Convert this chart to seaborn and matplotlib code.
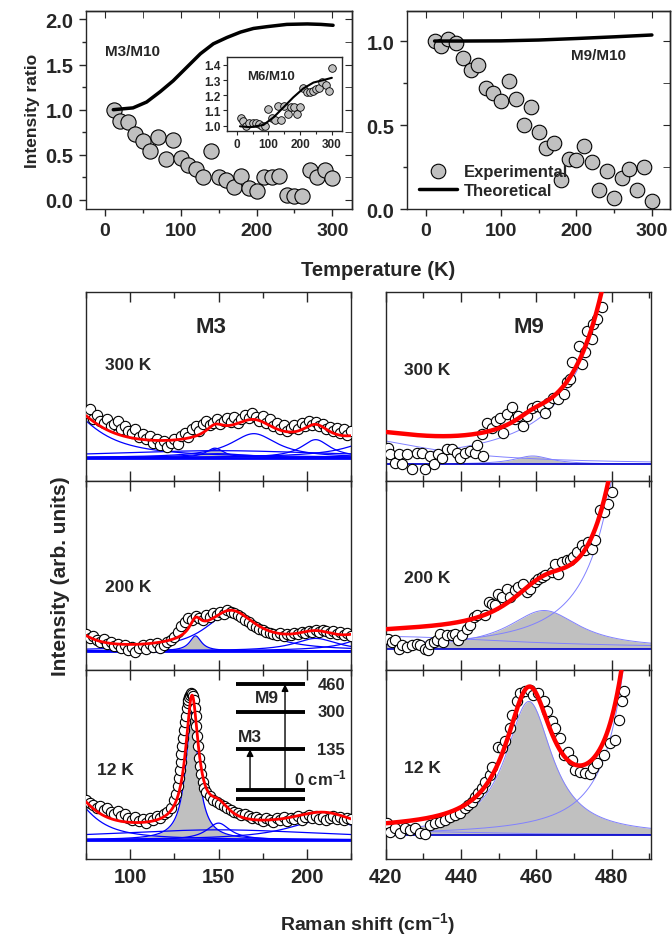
import numpy as np
import pandas as pd
import matplotlib
matplotlib.use("Agg")
import matplotlib.pyplot as plt
from matplotlib.ticker import MultipleLocator, NullLocator
import seaborn as sns

# ---------------- top panels: intensity ratios ----------------
temps = [12, 20, 30, 40, 50, 60, 70, 80, 90, 100, 110, 120, 130, 140, 150,
         160, 170, 180, 190, 200, 210, 220, 230, 240, 250, 260, 270, 280, 290, 300]
m3_ratio = [1.00, 0.88, 0.86, 0.73, 0.65, 0.54, 0.70, 0.45, 0.66, 0.46, 0.39, 0.34,
            0.25, 0.54, 0.25, 0.22, 0.14, 0.27, 0.13, 0.10, 0.25, 0.26, 0.27, 0.06,
            0.04, 0.04, 0.33, 0.25, 0.33, 0.24]
m9_ratio = [1.00, 0.97, 1.01, 0.99, 0.90, 0.83, 0.86, 0.72, 0.69, 0.645, 0.76, 0.655,
            0.50, 0.605, 0.46, 0.365, 0.39, 0.175, 0.30, 0.29, 0.377, 0.28, 0.115,
            0.224, 0.063, 0.187, 0.238, 0.115, 0.25, 0.048]
m6_ratio = [1.05, 1.03, 1.00, 1.02, 1.02, 1.02, 1.01, 1.00, 1.00, 1.11, 1.05, 1.04,
            1.13, 1.04, 1.13, 1.08, 1.12, 1.12, 1.08, 1.12, 1.25, 1.22, 1.22, 1.23,
            1.24, 1.25, 1.29, 1.27, 1.23, 1.38]

theo_m3_T = [11, 37, 55, 73, 90, 108, 126, 143, 161, 179, 196, 214, 240, 267, 285, 301]
theo_m3 = [1.00, 1.02, 1.085, 1.20, 1.32, 1.47, 1.62, 1.73, 1.80, 1.86, 1.90, 1.92,
           1.945, 1.95, 1.945, 1.935]
theo_m9_T = [12, 50, 100, 150, 200, 250, 300]
theo_m9 = [1.00, 1.00, 1.001, 1.006, 1.015, 1.025, 1.036]
theo_m6_T = [10, 42, 84, 116, 147, 178, 210, 242, 273, 300]
theo_m6 = [0.996, 0.99, 1.005, 1.055, 1.12, 1.186, 1.245, 1.284, 1.30, 1.315]

# ---------------- bottom panels: Raman spectra (arb. units) ----------------
m3_x = list(range(75, 226, 2))
m3_300 = [68, 72, 62, 66, 60, 58, 62, 55, 57, 60, 52, 55, 50, 48, 52, 44, 47, 42, 45, 38,
          42, 36, 40, 34, 38, 42, 37, 45, 48, 44, 52, 55, 50, 57, 60, 56, 58, 62, 57, 60,
          63, 59, 64, 58, 62, 66, 63, 68, 64, 60, 65, 58, 62, 55, 58, 52, 56, 50, 53, 56,
          52, 58, 55, 60, 56, 59, 55, 57, 52, 54, 50, 53, 48, 52, 46, 50]
m3_200 = [36, 32, 34, 30, 28, 31, 26, 28, 24, 26, 22, 25, 20, 23, 18, 22, 25, 21, 26, 23,
          27, 22, 25, 28, 30, 33, 38, 44, 48, 52, 50, 54, 52, 50, 55, 53, 57, 55, 58, 56,
          60, 58, 57, 55, 53, 50, 48, 45, 43, 41, 40, 38, 37, 36, 35, 37, 34, 36, 35, 37,
          36, 38, 37, 39, 38, 40, 38, 40, 39, 37, 39, 36, 38, 35, 37, 34]
m3_12_x = [75, 77, 79, 81, 83, 85, 87, 89, 91, 93, 95, 97, 99, 101, 103, 105, 107, 109,
           111, 113, 115, 117, 119, 121, 123, 125, 126, 127, 127.5, 128, 128.5, 129,
           129.5, 130, 130.5, 131, 131.5, 132, 132.5, 133, 133.5, 134, 134.5, 135, 135.5,
           136, 136.5, 137, 137.5, 138, 138.5, 139, 139.5, 140, 141, 142, 143, 145, 147,
           149, 151, 153, 155, 157, 159, 161, 163, 165, 167, 169, 171, 173, 175, 177, 179,
           181, 183, 185, 187, 189, 191, 193, 195, 197, 199, 201, 203, 205, 207, 209, 211,
           213, 215, 217, 219, 221, 223, 225]
m3_12 = [58, 55, 53, 50, 52, 48, 50, 46, 44, 47, 42, 44, 40, 38, 41, 37, 39, 35, 40, 38,
         42, 40, 44, 46, 50, 58, 64, 72, 80, 88, 96, 104, 112, 120, 128, 136, 142, 150,
         155, 158, 161, 163, 165, 164, 162, 158, 150, 142, 132, 122, 112, 100, 92, 84, 76,
         70, 66, 62, 58, 56, 54, 52, 50, 48, 46, 45, 43, 44, 42, 40, 41, 39, 37, 40, 38,
         36, 40, 38, 41, 37, 40, 39, 42, 38, 41, 43, 40, 42, 39, 41, 38, 40, 42, 39, 41,
         38, 40, 39]

m9_300_x = [420.7, 421.2, 422.5, 423.4, 424.2, 425.6, 426.9, 428.2, 429.6, 430.4, 431.8,
            432.7, 434.0, 434.9, 436.2, 437.5, 438.8, 439.7, 441.1, 442.4, 443.7, 444.3,
            445.9, 445.5, 446.8, 448.1, 449.3, 450.4, 451.2, 452.1, 453.5, 454.3, 455.2,
            456.5, 457.4, 458.8, 460.1, 461.4, 462.3, 463.2, 464.5, 465.8, 467.2, 468.1,
            468.9, 469.4, 471.2, 472.0, 472.9, 473.4, 474.7, 475.1, 476.0, 477.3]
m9_300 = [33.4, 26.7, 18.4, 26.7, 16.7, 26.7, 11.7, 28.4, 27.7, 11.7, 25.0, 16.7, 26.7,
          23.4, 31.7, 32.4, 28.4, 23.4, 28.4, 30.0, 28.4, 35.7, 25.0, 46.7, 58.4, 53.4,
          60.0, 63.4, 48.4, 66.7, 74.4, 61.7, 65.0, 55.0, 65.0, 73.4, 75.0, 73.4, 68.4,
          78.4, 83.4, 81.7, 86.7, 98.4, 101.7, 118.4, 135.0, 116.7, 128.4, 150.0, 141.7,
          156.7, 161.7, 173.4]
m9_200_x = [420.7, 421.6, 422.5, 423.4, 424.2, 425.6, 426.9, 428.2, 429.1, 430.4, 431.1,
            431.8, 432.7, 433.5, 434.4, 435.3, 436.2, 437.5, 438.4, 439.3, 440.2, 441.5,
            442.4, 443.3, 444.2, 446.4, 447.3, 448.1, 449.0, 449.9, 450.8, 452.1, 453.0,
            454.3, 455.2, 456.5, 457.4, 458.3, 459.6, 460.5, 461.4, 462.3, 464.1, 465.0,
            465.8, 466.7, 468.1, 468.9, 469.8, 470.7, 472.0, 472.9, 473.8, 474.7, 475.6,
            476.9, 477.8, 479.1, 480.0]
m9_200 = [31.0, 27.7, 29.3, 21.0, 24.3, 22.7, 24.3, 26.0, 24.3, 21.0, 19.3, 26.0, 27.7,
          29.3, 36.0, 27.7, 34.3, 34.3, 36.0, 29.3, 34.3, 41.0, 44.3, 52.7, 54.3, 54.3,
          67.7, 66.0, 64.3, 76.0, 72.7, 81.0, 72.7, 79.3, 82.7, 86.0, 77.7, 81.0, 87.7,
          91.0, 92.7, 94.3, 97.7, 106.0, 96.0, 107.7, 109.3, 109.3, 112.7, 117.7, 124.3,
          119.3, 127.7, 121.0, 129.3, 159.3, 157.7, 166.0, 177.7]
m9_12_x = [420.3, 421.2, 422.5, 423.8, 425.1, 426.5, 427.8, 429.1, 430.4, 431.8, 433.1,
           434.4, 435.8, 437.1, 438.4, 439.7, 441.1, 441.9, 442.8, 443.7, 444.6, 445.5,
           446.4, 447.7, 448.1, 449.9, 450.8, 451.7, 453.0, 453.5, 454.8, 455.7, 457.0,
           458.3, 459.2, 460.5, 461.9, 462.7, 464.1, 465.0, 466.3, 467.2, 468.5, 469.4,
           470.3, 471.6, 472.9, 474.2, 475.1, 476.0, 477.8, 479.6, 480.9, 481.8, 482.7,
           483.3]
m9_12 = [35.0, 26.7, 30.0, 25.0, 30.0, 28.3, 30.7, 25.0, 24.0, 33.3, 35.0, 36.0, 38.3,
         41.7, 43.3, 45.0, 50.0, 53.3, 56.7, 61.7, 65.0, 70.0, 76.7, 83.3, 91.7, 111.7,
         110.0, 116.7, 130.0, 143.3, 156.7, 165.0, 166.7, 168.3, 163.3, 165.0, 156.7,
         146.7, 136.7, 130.0, 120.0, 103.3, 106.7, 98.3, 88.3, 86.7, 85.0, 84.0, 90.0,
         95.0, 103.3, 115.0, 118.3, 138.3, 156.7, 166.7]

# Fitted Lorentzian components: centre, half width, height
m3_300_base = 23.3
m3_300_c = [60, 148, 150, 170, 205, 245, 150]
m3_300_g = [22, 6, 20, 16, 10, 20, 80]
m3_300_a = [54, 9.5, 4, 24, 18, 23, 7]
m3_300_fill = 1
m3_200_base = 18.6
m3_200_c = [65, 137, 157, 205, 240]
m3_200_g = [12, 4, 18, 15, 15]
m3_200_a = [22.7, 15, 38, 12.5, 19]
m3_200_fill = 1
m3_12_base = 18.6
m3_12_c = [65, 135, 150, 210, 150]
m3_12_g = [15, 4.3, 8, 25, 80]
m3_12_a = [45, 127, 16.7, 20, 10]
m3_12_fill = 1
m9_300_base = 16.7
m9_300_c = [410, 459, 490]
m9_300_g = [25, 6, 10]
m9_300_a = [27, 8.3, 440]
m9_300_fill = 1
m9_200_base = 21.0
m9_200_c = [420, 462, 488]
m9_200_g = [40, 11.5, 8]
m9_200_a = [12, 38, 340]
m9_200_fill = 1
m9_12_base = 23.3
m9_12_c = [420, 458, 490]
m9_12_g = [30, 7.5, 6]
m9_12_a = [4, 133.4, 388]
m9_12_fill = 1

level_labels = ["460", "300", "135", "0 cm$^{-1}$"]

# ---------------- styling ----------------
sns.set_style("ticks")
plt.rcParams["font.family"] = ["Liberation Sans", "DejaVu Sans"]
plt.rcParams["font.weight"] = "bold"
plt.rcParams["axes.labelweight"] = "bold"
plt.rcParams["mathtext.fontset"] = "custom"
plt.rcParams["mathtext.rm"] = "Liberation Sans:bold"
plt.rcParams["mathtext.it"] = "Liberation Sans:bold"
plt.rcParams["mathtext.bf"] = "Liberation Sans:bold"
plt.rcParams["axes.linewidth"] = 1.0

W, H = 672, 937
fig = plt.figure(figsize=(W / 100, H / 100), dpi=100)


def px_axes(x0, y0, x1, y1):
    return fig.add_axes([x0 / W, 1 - y1 / H, (x1 - x0) / W, (y1 - y0) / H])


def lor(x, c, g, a):
    return a * g ** 2 / ((x - c) ** 2 + g ** 2)


def style_top(ax):
    ax.tick_params(which="both", direction="out", top=False, right=False, width=1.0,
                   pad=4)
    ax.tick_params(axis="x", labelsize=14)
    ax.tick_params(axis="y", labelsize=14.5)
    ax.tick_params(which="major", length=5)
    ax.tick_params(which="minor", length=3)
    ax2 = ax.secondary_xaxis("top")
    ax2.tick_params(which="both", direction="in", labeltop=False, length=5)
    ax2.xaxis.set_major_locator(ax.xaxis.get_major_locator())
    ax2.xaxis.set_minor_locator(ax.xaxis.get_minor_locator())
    ax3 = ax.secondary_yaxis("right")
    ax3.tick_params(which="both", direction="in", labelright=False, length=5)
    ax3.yaxis.set_major_locator(ax.yaxis.get_major_locator())
    ax3.yaxis.set_minor_locator(ax.yaxis.get_minor_locator())
    for lab in ax.get_xticklabels() + ax.get_yticklabels():
        lab.set_fontweight("bold")


# ---- top-left ----
axA = px_axes(86, 12.3, 352, 210)
sns.scatterplot(x=temps, y=m3_ratio, ax=axA, s=120, color="#c0c0c0", edgecolor="black",
                linewidth=0.8, zorder=3)
sns.lineplot(x=theo_m3_T, y=theo_m3, ax=axA, color="black", lw=2.5, sort=False,
             estimator=None, zorder=4)
axA.set_xlim(-25, 326)
axA.set_ylim(-0.1, 2.09)
axA.xaxis.set_major_locator(MultipleLocator(100))
axA.xaxis.set_minor_locator(MultipleLocator(50))
axA.yaxis.set_major_locator(MultipleLocator(0.5))
axA.yaxis.set_minor_locator(MultipleLocator(0.25))
axA.set_ylabel("Intensity ratio", fontsize=12.5, labelpad=4)
axA.text(0.07, 0.8, "M3/M10", transform=axA.transAxes, fontsize=11, fontweight="bold",
         va="center")
style_top(axA)

# ---- inset ----
axI = px_axes(227.3, 58.3, 342, 131.7)
sns.scatterplot(x=temps, y=m6_ratio, ax=axI, s=30, color="#c0c0c0", edgecolor="black",
                linewidth=0.6, zorder=3)
sns.lineplot(x=theo_m6_T, y=theo_m6, ax=axI, color="black", lw=1.5, sort=False,
             estimator=None, zorder=4)
axI.set_xlim(-30, 332)
axI.set_ylim(0.967, 1.45)
axI.xaxis.set_major_locator(MultipleLocator(100))
axI.xaxis.set_minor_locator(MultipleLocator(50))
axI.yaxis.set_major_locator(MultipleLocator(0.1))
axI.tick_params(which="both", direction="out", labelsize=8.5, length=3, width=0.8, pad=2)
axI.tick_params(which="minor", length=2)
for lab in axI.get_xticklabels() + axI.get_yticklabels():
    lab.set_fontweight("bold")
axI.set_xlabel("")
axI.set_ylabel("")
axI.text(0.17, 0.74, "M6/M10", transform=axI.transAxes, fontsize=9.5, fontweight="bold",
         va="center")

# ---- top-right ----
axB = px_axes(406.7, 12.3, 670, 210)
sns.scatterplot(x=temps, y=m9_ratio, ax=axB, s=110, color="#c0c0c0", edgecolor="black",
                linewidth=0.8, zorder=3, label="Experimental")
sns.lineplot(x=theo_m9_T, y=theo_m9, ax=axB, color="black", lw=2.5, sort=False,
             estimator=None, zorder=4, label="Theoretical")
axB.set_xlim(-25, 324)
axB.set_ylim(0, 1.177)
axB.xaxis.set_major_locator(MultipleLocator(100))
axB.xaxis.set_minor_locator(MultipleLocator(50))
axB.yaxis.set_major_locator(MultipleLocator(0.5))
axB.yaxis.set_minor_locator(MultipleLocator(0.25))
axB.set_ylabel("")
axB.text(0.624, 0.78, "M9/M10", transform=axB.transAxes, fontsize=11, fontweight="bold",
         va="center")
style_top(axB)
hs, ls = axB.get_legend_handles_labels()
axB.legend(hs, ls, loc="lower left", bbox_to_anchor=(-0.01, -0.02), frameon=False,
           handlelength=2.3, handletextpad=0.4, labelspacing=0.25,
           prop={"weight": "bold", "size": 12})

fig.text(378 / W, 1 - 270 / H, "Temperature (K)", ha="center", va="center", fontsize=14.5,
         fontweight="bold")

# ---------------- bottom spectra ----------------
rows = [(293.3, 482.0), (482.0, 670.5), (670.5, 859.5)]
left_panels = [
    (m3_x, m3_300, m3_300_base, m3_300_c, m3_300_g, m3_300_a, m3_300_fill, "300 K"),
    (m3_x, m3_200, m3_200_base, m3_200_c, m3_200_g, m3_200_a, m3_200_fill, "200 K"),
    (m3_12_x, m3_12, m3_12_base, m3_12_c, m3_12_g, m3_12_a, m3_12_fill, "12 K"),
]
right_panels = [
    (m9_300_x, m9_300, m9_300_base, m9_300_c, m9_300_g, m9_300_a, m9_300_fill, "300 K"),
    (m9_200_x, m9_200, m9_200_base, m9_200_c, m9_200_g, m9_200_a, m9_200_fill, "200 K"),
    (m9_12_x, m9_12, m9_12_base, m9_12_c, m9_12_g, m9_12_a, m9_12_fill, "12 K"),
]


def spectrum_panel(ax, panel, xlim, side):
    xs, ys, base, cs, gs, as_, fill_i, lab = panel
    grid = np.linspace(xlim[0], xlim[1], 600)
    comps = [lor(grid, c, g, a) for c, g, a in zip(cs, gs, as_)]
    fit = base + np.sum(comps, axis=0)
    if side == "L":
        ccol, clw, bcol, blw, rlw, ecol = "#0000ff", 0.9, "#0000ff", 2.0, 2.0, "#0000ff"
    else:
        ccol, clw, bcol, blw, rlw, ecol = "#8080ff", 0.7, "#0000cc", 1.2, 3.2, "#8080ff"
    ax.fill_between(grid, base, base + comps[fill_i], color="#c0c0c0", lw=0, zorder=1)
    for i, comp in enumerate(comps):
        sns.lineplot(x=grid, y=base + comp, ax=ax, color=ecol if i == fill_i else ccol,
                     lw=clw, sort=False, estimator=None, zorder=2)
    ax.axhline(base, color=bcol, lw=blw, zorder=2)
    sns.scatterplot(x=xs, y=ys, ax=ax, s=55, color="white", edgecolor="black",
                    linewidth=0.8, zorder=3)
    sns.lineplot(x=grid, y=fit, ax=ax, color="#ff0000", lw=rlw, sort=False,
                 estimator=None, zorder=4)
    ax.set_xlim(*xlim)
    ax.set_ylim(0, 188.5)
    ax.yaxis.set_major_locator(NullLocator())
    ax.set_xlabel("")
    ax.set_ylabel("")
    ax.tick_params(which="both", direction="in", top=True, bottom=True, width=1.0,
                   labelsize=14.5, pad=6)
    ax.tick_params(which="major", length=7)
    ax.tick_params(which="minor", length=4)
    return lab


for r, (y0, y1) in enumerate(rows):
    axL = px_axes(86, y0, 351, y1)
    lab = spectrum_panel(axL, left_panels[r], (75, 225), "L")
    axL.xaxis.set_major_locator(MultipleLocator(50))
    axL.xaxis.set_minor_locator(MultipleLocator(25))
    axL.set_xticks([100, 150, 200])
    axL.text(0.07 if r < 2 else 0.04, [0.62, 0.44, 0.47][r], lab, transform=axL.transAxes,
             fontsize=12.5, fontweight="bold", va="center")
    if r == 0:
        axL.text(0.47, 0.82, "M3", transform=axL.transAxes, fontsize=16,
                 fontweight="bold", ha="center", va="center")
    if r < 2:
        axL.tick_params(labelbottom=False)
    else:
        for lab_t in axL.get_xticklabels():
            lab_t.set_fontweight("bold")
        # level scheme
        lvl_y = [0.922, 0.776, 0.578, 0.363, 0.314]
        for yy in lvl_y:
            axL.plot([0.566, 0.826], [yy, yy], transform=axL.transAxes, color="black",
                     lw=2.8, solid_capstyle="butt", zorder=5)
        for yy, t in zip(lvl_y[:3], level_labels[:3]):
            axL.text(0.925, yy, t, transform=axL.transAxes, fontsize=12,
                     fontweight="bold", ha="center", va="center")
        axL.text(0.885, 0.43, level_labels[3], transform=axL.transAxes, fontsize=12,
                 fontweight="bold", ha="center", va="center")
        axL.annotate("", xy=(0.619, 0.578), xytext=(0.619, 0.363),
                     xycoords="axes fraction",
                     arrowprops=dict(arrowstyle="-|>", color="black", lw=1.0,
                                     mutation_scale=10, shrinkA=0, shrinkB=0))
        axL.annotate("", xy=(0.751, 0.922), xytext=(0.751, 0.363),
                     xycoords="axes fraction",
                     arrowprops=dict(arrowstyle="-|>", color="black", lw=1.0,
                                     mutation_scale=10, shrinkA=0, shrinkB=0))
        axL.text(0.683, 0.854, "M9", transform=axL.transAxes, fontsize=12.5,
                 fontweight="bold", ha="center", va="center")
        axL.text(0.619, 0.647, "M3", transform=axL.transAxes, fontsize=12.5,
                 fontweight="bold", ha="center", va="center")

    axR = px_axes(385.7, y0, 651, y1)
    lab = spectrum_panel(axR, right_panels[r], (420, 490.4), "R")
    axR.xaxis.set_major_locator(MultipleLocator(20))
    axR.xaxis.set_minor_locator(MultipleLocator(10))
    axR.text(0.07, [0.59, 0.49, 0.48][r], lab, transform=axR.transAxes, fontsize=12.5,
             fontweight="bold", va="center")
    if r == 0:
        axR.text(0.54, 0.82, "M9", transform=axR.transAxes, fontsize=16,
                 fontweight="bold", ha="center", va="center")
    if r < 2:
        axR.tick_params(labelbottom=False)
    else:
        for lab_t in axR.get_xticklabels():
            lab_t.set_fontweight("bold")

fig.text(368 / W, 1 - 924 / H, "Raman shift (cm$^{-1}$)", ha="center", va="center",
         fontsize=14, fontweight="bold")
fig.text(60 / W, 1 - 576 / H, "Intensity (arb. units)", ha="center", va="center",
         rotation=90, fontsize=15, fontweight="bold")

fig.savefig("out.png", dpi=100)
